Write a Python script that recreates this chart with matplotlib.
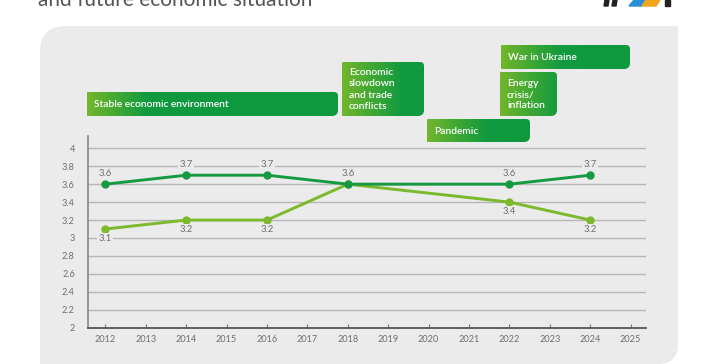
import matplotlib.pyplot as plt
from matplotlib.path import Path
from matplotlib.patches import PathPatch, Polygon
from matplotlib.colors import LinearSegmentedColormap
import numpy as np

plt.rcParams['font.family'] = ['Lato', 'DejaVu Sans']

# data
years = [2012, 2014, 2016, 2018, 2022, 2024]
current = [3.6, 3.7, 3.7, 3.6, 3.6, 3.7]
future = [3.1, 3.2, 3.2, 3.6, 3.4, 3.2]
x_ticks = list(range(2012, 2026))
y_ticks = [2, 2.2, 2.4, 2.6, 2.8, 3, 3.2, 3.4, 3.6, 3.8, 4]
events = ["Stable economic environment",
          "Economic\nslowdown\nand trade\nconflicts",
          "Pandemic",
          "Energy\ncrisis/\ninflation",
          "War in Ukraine"]

# box layout in pixels (x0, y0, x1, y1), y from top
event_boxes = [(87, 92, 338, 116),
               (342, 62, 424, 116),
               (427, 119, 530, 142),
               (500, 72, 557, 116),
               (501, 45, 630, 69)]

W, H = 728, 364
PANEL = '#ebebeb'
DARK = '#159a42'
LIGHT = '#7cb92c'
GRAY = '#6e6e6e'


def rrect(x0, y0, x1, y1, r):
    # rounded rect, corners (top-left, top-right, bottom-right, bottom-left)
    tl, tr, br, bl = r
    verts = [(x0 + tl, y0), (x1 - tr, y0), (x1, y0), (x1, y0 + tr),
             (x1, y1 - br), (x1, y1), (x1 - br, y1), (x0 + bl, y1),
             (x0, y1), (x0, y1 - bl), (x0, y0 + tl), (x0, y0), (x0 + tl, y0),
             (x0 + tl, y0)]
    codes = [Path.MOVETO, Path.LINETO, Path.CURVE3, Path.CURVE3,
             Path.LINETO, Path.CURVE3, Path.CURVE3, Path.LINETO,
             Path.CURVE3, Path.CURVE3, Path.LINETO, Path.CURVE3, Path.CURVE3,
             Path.CLOSEPOLY]
    return Path(verts, codes)


fig = plt.figure(figsize=(W / 100, H / 100), dpi=100)
fig.patch.set_facecolor('white')

bg = fig.add_axes([0, 0, 1, 1])
bg.axis('off')

bg.add_patch(PathPatch(rrect(40, 26, 678, 364, (26, 0, 20, 0)),
                       facecolor=PANEL, edgecolor='none', zorder=0))

# title (cut off at the top) and logo bits
bg.text(38, 6, "and future economic situation", fontsize=15, color='#555555',
        ha='left', va='baseline')
bg.add_patch(Polygon([(605, 0), (609, 0), (608, 6), (604, 6)], color='#222222'))
bg.add_patch(Polygon([(613, 0), (617, 0), (616, 6), (612, 6)], color='#222222'))
bg.add_patch(Polygon([(629, 6), (634, 0), (646, 0), (642, 6)], color='#2a8fd6'))
bg.add_patch(Polygon([(642, 6), (646, 0), (660, 0), (656, 6)], color='#f2a41c'))
bg.add_patch(Polygon([(665, 0), (670, 0), (670, 6), (665, 6)], color='#222222'))

grad = LinearSegmentedColormap.from_list('g', ['#72b62c', '#3fa834', '#129a3f', '#0f993f'])
for label, (x0, y0, x1, y1) in zip(events, event_boxes):
    patch = PathPatch(rrect(x0, y0, x1, y1, (1, 4, 6, 1)),
                      facecolor='none', edgecolor='none', zorder=1)
    bg.add_patch(patch)
    u = np.linspace(0, 1, 200)
    t = np.clip(u * (x1 - x0) / 90.0, 0, 1)
    im = bg.imshow(t[None, :], cmap=grad, extent=(x0, x1, y1, y0),
                   aspect='auto', vmin=0, vmax=1, interpolation='bilinear',
                   zorder=2)
    im.set_clip_path(patch)
    bg.text(x0 + 7, (y0 + y1) / 2 + 0.5, label, color='white', fontsize=7.4,
            fontweight='semibold', ha='left', va='center', linespacing=1.3,
            zorder=3)

bg.set_xlim(0, W)
bg.set_ylim(H, 0)

# main chart
ax = fig.add_axes([88 / W, (H - 327.7) / H, 558 / W, 191.7 / H])
ax.patch.set_alpha(0)
ax.set_xlim(2011.57, 2025.38)
ax.set_ylim(2, 4.137)

for y in y_ticks[1:]:
    ax.axhline(y, color='#b6b6b6', lw=1, zorder=1)

ax.plot(years, future, color=LIGHT, lw=2.1, marker='o', ms=5, zorder=3)
ax.plot(years, current, color=DARK, lw=2.1, marker='o', ms=5, zorder=4)

for x, v in zip(years, current):
    ax.annotate(f"{v}", (x, v), xytext=(0, 7.5), textcoords='offset points',
                ha='center', va='center', fontsize=6.8, color=GRAY, zorder=5,
                bbox=dict(boxstyle='square,pad=0.15', fc=PANEL, ec='none'))
for x, v, c in zip(years, future, current):
    if v == c:
        continue
    ax.annotate(f"{v}", (x, v), xytext=(0, -6.8), textcoords='offset points',
                ha='center', va='center', fontsize=6.8, color=GRAY, zorder=5,
                bbox=dict(boxstyle='square,pad=0.15', fc=PANEL, ec='none'))

ax.set_xticks(x_ticks)
ax.set_xticklabels([str(y) for y in x_ticks])
ax.set_yticks(y_ticks)
ax.set_yticklabels([f"{y:g}" for y in y_ticks])
ax.tick_params(axis='x', direction='in', length=3, width=0.8, color='#777777',
               labelsize=6.6, labelcolor=GRAY, pad=5.5)
ax.tick_params(axis='y', length=0, labelsize=6.6, labelcolor=GRAY, pad=9.5)

for s in ('top', 'right'):
    ax.spines[s].set_visible(False)
ax.spines['bottom'].set_color('#555555')
ax.spines['bottom'].set_linewidth(1.3)
ax.spines['left'].set_color('#888888')
ax.spines['left'].set_linewidth(1.2)

fig.savefig('out.png', dpi=100, facecolor='white')
